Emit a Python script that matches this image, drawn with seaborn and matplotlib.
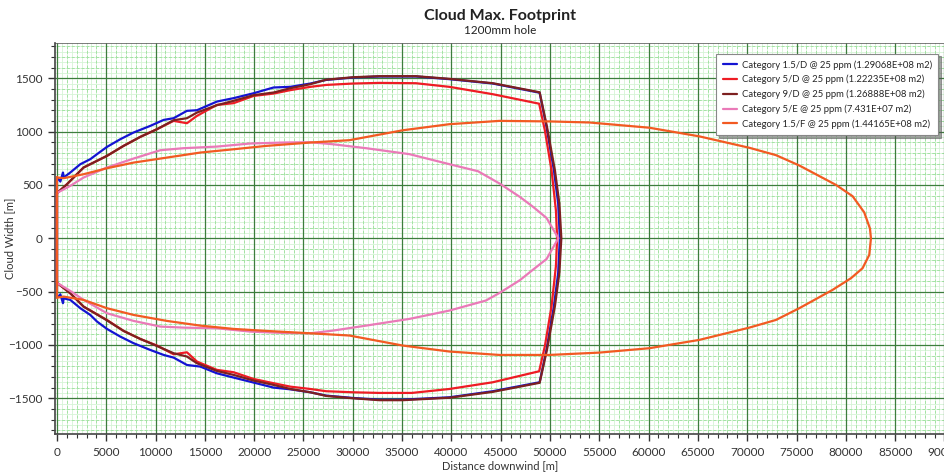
import numpy as np
import pandas as pd
import seaborn as sns
import matplotlib.pyplot as plt
from matplotlib.ticker import MultipleLocator

# footprint contours, upper half (left -> tip) and lower half (tip -> left)
blue_top_x = [0, 170, 340, 610, 680, 1350, 2370, 3380, 4060, 5070, 6420, 7770, 9460, 10820, 11830, 13180, 14200,
              16220, 17910, 19940, 21970, 23660, 25690, 27300, 30000, 32700, 36400, 39800, 44200, 48950, 49650,
              50400, 50830, 51000]
blue_top_y = [560, 553, 531, 616, 569, 616, 694, 741, 788, 856, 928, 991, 1053, 1109, 1125, 1194, 1200,
              1281, 1313, 1359, 1413, 1419, 1450, 1484, 1506, 1516, 1516, 1491, 1450, 1364, 1042,
              636, 325, 0]
blue_bot_x = [51000, 50830, 50400, 49650, 48950, 44200, 39800, 35070, 32700, 30000, 27300, 25690, 23660, 21970,
              19940, 17910, 16220, 14530, 13180, 11830, 10820, 9460, 7770, 6420, 5070, 4060, 3380, 2370, 1350,
              680, 610, 340, 170, 0, 0]
blue_bot_y = [0, -325, -636, -1042, -1350, -1434, -1491, -1513, -1513, -1497, -1475, -1444, -1416, -1400,
              -1353, -1306, -1266, -1203, -1188, -1119, -1094, -1047, -984, -922, -850, -781, -719, -656, -578,
              -563, -609, -525, -547, -540, 560]

red_top_x = [0, 68, 1010, 2700, 5070, 6760, 8450, 10140, 11830, 13180, 14200, 16220, 17910, 19940, 21970, 23660,
             25690, 27300, 30000, 32700, 36400, 39800, 44200, 48900, 49480, 50160, 50600, 50730]
red_top_y = [430, 428, 506, 663, 772, 866, 950, 1022, 1100, 1078, 1147, 1250, 1266, 1334, 1356, 1388,
             1419, 1437, 1450, 1456, 1453, 1419, 1350, 1261, 1011, 636, 262, 0]
red_bot_x = [50730, 50600, 50160, 49480, 48900, 44200, 39800, 36000, 32700, 30000, 27300, 25690, 23660, 21970,
             19940, 17910, 16220, 14200, 13180, 11830, 10140, 8450, 6760, 5070, 2700, 1350, 68, 0, 0]
red_bot_y = [0, -262, -636, -1011, -1247, -1350, -1413, -1450, -1450, -1444, -1434, -1413, -1391, -1359,
             -1319, -1256, -1234, -1156, -1069, -1088, -1006, -944, -869, -766, -641, -516, -422, -420, 430]

maroon_top_x = [0, 68, 1010, 2700, 5070, 6760, 8450, 10140, 11830, 13180, 14200, 16220, 17910, 19940, 21970,
                23660, 25690, 27300, 30000, 32700, 36400, 39800, 44200, 48950, 49700, 50500, 50950, 51150]
maroon_top_y = [430, 428, 506, 663, 772, 866, 950, 1022, 1106, 1125, 1178, 1247, 1288, 1341, 1366,
                1406, 1444, 1486, 1509, 1519, 1519, 1494, 1453, 1368, 1042, 636, 325, 0]
maroon_bot_x = [51150, 50950, 50500, 49700, 48950, 44200, 39800, 35070, 32700, 30000, 27300, 25690, 23660,
                21970, 19940, 17910, 16220, 14200, 13180, 11830, 10140, 8450, 6760, 5070, 2700, 1350, 68, 0, 0]
maroon_bot_y = [0, -325, -636, -1042, -1355, -1440, -1495, -1518, -1518, -1500, -1478, -1444, -1413,
                -1375, -1334, -1281, -1244, -1172, -1109, -1078, -1010, -944, -869, -770, -641, -516, -422,
                -420, 430]

pink_top_x = [0, 68, 1350, 2700, 5070, 7770, 10480, 12840, 16220, 19600, 22980, 25690, 27970, 31350, 35750,
              39800, 42700, 44900, 46950, 48300, 49650, 50850]
pink_top_y = [420, 428, 491, 569, 663, 747, 825, 844, 859, 888, 897, 900, 881, 844, 788,
              694, 628, 512, 387, 293, 190, 0]
pink_bot_x = [50850, 49650, 48300, 46950, 44900, 43500, 39800, 35750, 31350, 27970, 25690, 22980, 19600, 16220,
              12840, 10480, 7770, 5070, 2700, 1350, 68, 0, 0]
pink_bot_y = [0, -195, -293, -393, -512, -584, -678, -756, -819, -866, -891, -888, -875, -844,
              -838, -828, -775, -703, -578, -494, -422, -420, 420]

orange_top_x = [0, 68, 680, 2700, 5070, 7770, 11150, 14530, 17910, 21290, 25690, 29660, 35070, 39800, 44870,
                49930, 53990, 60070, 65140, 70210, 72910, 75280, 79000, 80690, 81870, 82450, 82550]
orange_top_y = [570, 569, 563, 600, 656, 709, 756, 803, 834, 866, 897, 919, 1012, 1069, 1100,
                1095, 1085, 1036, 955, 848, 779, 682, 500, 394, 242, 91, 0]
orange_bot_x = [82550, 82380, 81700, 80520, 78660, 75280, 72910, 70210, 65140, 60070, 55000, 49930, 44870,
                39800, 35070, 29660, 25690, 21290, 17910, 14530, 11150, 7770, 5070, 2700, 680, 68, 0, 0]
orange_bot_y = [0, -156, -281, -375, -484, -656, -766, -838, -953, -1031, -1072, -1094, -1094,
                -1062, -1006, -912, -891, -869, -850, -819, -775, -719, -656, -578, -547, -556, -560, 570]

labels = ["Category 1.5/D @ 25 ppm (1.29068E+08 m2)",
          "Category 5/D @ 25 ppm (1.22235E+08 m2)",
          "Category 9/D @ 25 ppm (1.26888E+08 m2)",
          "Category 5/E @ 25 ppm (7.431E+07 m2)",
          "Category 1.5/F @ 25 ppm (1.44165E+08 m2)"]
colors = ["#1414d2", "#ee1c24", "#7d2020", "#ea7ab8", "#f25a22"]

series = [(blue_top_x, blue_top_y, blue_bot_x, blue_bot_y),
          (red_top_x, red_top_y, red_bot_x, red_bot_y),
          (maroon_top_x, maroon_top_y, maroon_bot_x, maroon_bot_y),
          (pink_top_x, pink_top_y, pink_bot_x, pink_bot_y),
          (orange_top_x, orange_top_y, orange_bot_x, orange_bot_y)]

sns.set_style("white")
plt.rcParams['font.family'] = ['Lato', 'DejaVu Sans']

fig = plt.figure(figsize=(9.45, 4.72), dpi=100)
ax = fig.add_axes([55/945, 38/472, 890/945, 391/472])

for (tx, ty, bx, by), lab, col in zip(series, labels, colors):
    df = pd.DataFrame({"x": tx + bx, "y": ty + by})
    sns.lineplot(data=df, x="x", y="y", sort=False, estimator=None, color=col, lw=1.6,
                 label=lab, ax=ax, zorder=3)

ax.set_xlim(-200, 90060)
ax.set_ylim(-1835, 1830)

# fine grid: light lines every 500 / 50, a bit stronger every 1000 / 100
ax.vlines(np.arange(-500, 90501, 500), -2000, 2000, color="#d6f4d6", lw=0.6, zorder=0)
ax.hlines(np.arange(-1850, 1851, 50), -1000, 91000, color="#d6f4d6", lw=0.6, zorder=0)
ax.vlines(np.arange(-1000, 91001, 1000), -2000, 2000, color="#a4e2a4", lw=0.7, ls=(0, (3, 2)), zorder=0)
ax.hlines(np.arange(-1900, 1901, 100), -1000, 91000, color="#a4e2a4", lw=0.7, ls=(0, (3, 2)), zorder=0)
ax.xaxis.set_major_locator(MultipleLocator(5000))
ax.xaxis.set_minor_locator(MultipleLocator(1000))
ax.yaxis.set_major_locator(MultipleLocator(500))
ax.yaxis.set_minor_locator(MultipleLocator(100))
ax.grid(which="major", color="#3d7d3d", lw=0.9, zorder=1)
ax.set_axisbelow(True)

ax.tick_params(which="major", length=5, width=1, color="#333333", labelsize=8.5, labelcolor="#333333",
               bottom=True, left=True, pad=4)
ax.tick_params(which="minor", length=3, width=0.8, color="#333333", bottom=True, left=True)
for s in ["top", "right"]:
    ax.spines[s].set_visible(False)
for s in ["left", "bottom"]:
    ax.spines[s].set_color("#444444")
    ax.spines[s].set_linewidth(1.2)
ax.axhline(1830, color="#666666", lw=1.2)

ax.set_xlabel("Distance downwind [m]", fontsize=8, color="#333333", labelpad=2)
ax.set_ylabel("Cloud Width [m]", fontsize=8, color="#333333")
ax.yaxis.set_label_coords(-40/890, 0.5)

leg = ax.legend(loc="upper right", bbox_to_anchor=(0.998, 0.985), fontsize=6.8, frameon=True,
                fancybox=False, edgecolor="#888888", framealpha=1, handlelength=1.5, handletextpad=0.5,
                borderpad=0.7, labelspacing=0.55, shadow=True)
leg.get_frame().set_linewidth(0.8)

fig.text(500/945, 1 - 16/472, "Cloud Max. Footprint", ha="center", va="center", fontsize=11.5,
         fontweight="bold", color="#222222")
fig.text(500/945, 1 - 31/472, "1200mm hole", ha="center", va="center", fontsize=8.5, color="#222222")

fig.savefig("out.png", dpi=100)
